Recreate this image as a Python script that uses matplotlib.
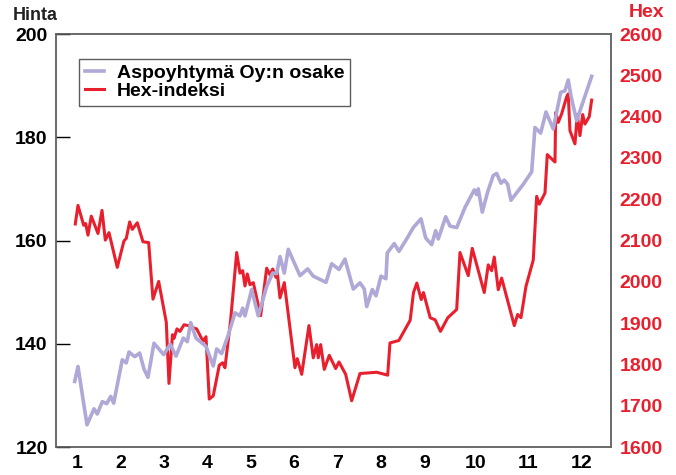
import matplotlib
matplotlib.use("Agg")
import matplotlib.pyplot as plt
import numpy as np

plt.rcParams["font.family"] = ["Liberation Sans", "DejaVu Sans"]
plt.rcParams["font.weight"] = "bold"

# x positions are in "month" units (1 = first label)
aspo_x = [0.947, 1.023, 1.230, 1.391, 1.467, 1.582, 1.683, 1.775, 1.844, 2.041,
          2.133, 2.195, 2.326, 2.441, 2.540, 2.632, 2.770, 2.993, 3.145, 3.276,
          3.444, 3.536, 3.614, 3.736, 3.966, 4.133, 4.211, 4.326, 4.478, 4.632,
          4.747, 4.809, 4.862, 5.016, 5.168, 5.361, 5.499, 5.591, 5.667, 5.766,
          5.857, 6.126, 6.303, 6.432, 6.724, 6.855, 7.023, 7.161, 7.352, 7.506,
          7.605, 7.660, 7.789, 7.874, 7.989, 8.103, 8.133, 8.294, 8.402, 8.579,
          8.731, 8.908, 9.016, 9.154, 9.246, 9.306, 9.476, 9.575, 9.729, 9.920,
          10.133, 10.189, 10.225, 10.317, 10.441, 10.570, 10.648, 10.747, 10.823, 10.901,
          10.977, 11.260, 11.453, 11.529, 11.660, 11.782, 11.949, 12.120, 12.218, 12.294,
          12.356, 12.487, 12.832]
aspo_price = [132.7, 135.6, 124.3, 127.4, 126.4, 128.8, 128.4, 129.8, 128.5, 136.9,
              136.3, 138.4, 137.5, 138.2, 135.1, 133.5, 140.1, 137.9, 139.9, 137.6,
              141.1, 140.4, 144.1, 141.1, 139.5, 135.7, 139.0, 138.1, 141.7, 146.0,
              145.4, 146.9, 145.4, 150.5, 145.4, 151.1, 153.7, 153.6, 156.9, 153.7,
              158.3, 153.2, 154.5, 153.1, 151.9, 155.5, 154.4, 156.4, 150.6, 151.8,
              150.6, 147.2, 150.5, 149.3, 153.1, 152.6, 157.6, 159.4, 157.9, 160.3,
              162.5, 164.2, 160.5, 159.2, 161.9, 160.3, 164.6, 162.8, 162.5, 166.4,
              169.8, 168.9, 170.0, 165.5, 169.4, 172.6, 173.0, 171.1, 171.7, 170.9,
              167.8, 170.9, 173.3, 181.9, 180.8, 184.9, 181.6, 188.7, 189.0, 191.1,
              188.0, 183.2, 191.8]

hex_x = [0.961, 1.023, 1.154, 1.200, 1.253, 1.329, 1.483, 1.575, 1.651, 1.736,
         1.926, 2.080, 2.133, 2.211, 2.271, 2.386, 2.517, 2.648, 2.747, 2.878,
         3.053, 3.115, 3.195, 3.230, 3.299, 3.368, 3.460, 3.559, 3.690, 3.752,
         3.844, 3.903, 3.966, 4.041, 4.133, 4.271, 4.349, 4.402, 4.533, 4.671,
         4.747, 4.809, 4.862, 4.915, 4.977, 5.053, 5.223, 5.361, 5.437, 5.499,
         5.575, 5.605, 5.667, 5.766, 6.011, 6.064, 6.166, 6.333, 6.432, 6.510,
         6.547, 6.602, 6.685, 6.800, 6.947, 7.023, 7.177, 7.315, 7.506, 7.890,
         8.143, 8.195, 8.400, 8.660, 8.736, 8.813, 8.914, 8.966, 9.120, 9.234,
         9.356, 9.524, 9.729, 9.805, 9.995, 10.087, 10.363, 10.455, 10.533, 10.593,
         10.685, 10.763, 11.053, 11.131, 11.207, 11.322, 11.490, 11.568, 11.628, 11.759,
         11.812, 11.989, 12.005, 12.064, 12.143, 12.257, 12.294, 12.333, 12.448, 12.501,
         12.563, 12.625, 12.678, 12.777, 12.832]
hex_index = [2140, 2185, 2137, 2141, 2113, 2159, 2117, 2173, 2101, 2119,
             2035, 2099, 2105, 2145, 2127, 2143, 2097, 2095, 1958, 2001,
             1902, 1754, 1872, 1863, 1886, 1880, 1896, 1894, 1888, 1886,
             1867, 1856, 1867, 1716, 1724, 1798, 1804, 1792, 1908, 2071,
             2021, 2027, 1990, 2019, 1993, 1998, 1918, 2033, 2017, 2031,
             2011, 2022, 1961, 1998, 1792, 1814, 1776, 1894, 1816, 1848,
             1816, 1848, 1788, 1822, 1790, 1806, 1776, 1712, 1778, 1781,
             1774, 1852, 1858, 1907, 1974, 1997, 1957, 1974, 1913, 1908,
             1880, 1913, 1933, 2071, 2015, 2081, 1974, 2041, 2027, 2060,
             1981, 2009, 1894, 1921, 1913, 1989, 2053, 2207, 2188, 2215,
             2308, 2290, 2410, 2386, 2407, 2448, 2455, 2366, 2334, 2405,
             2354, 2405, 2382, 2400, 2440]

month_labels = ["1", "2", "3", "4", "5", "6", "7", "8", "9", "10", "11", "12"]
month_pos = [1.01, 2.01, 3.0, 3.99, 4.99, 5.99, 6.99, 7.98, 9.0, 10.17, 11.37, 12.6]

purple = "#b0a8d6"
red = "#e8202e"
fs = 14

fig = plt.figure(figsize=(6.76, 4.75), dpi=100)
ax = fig.add_axes([0.0828, 0.0589, 0.8210, 0.8695])
ax2 = ax.twinx()

l1, = ax.plot(aspo_x, aspo_price, color=purple, lw=2.6, label="Aspoyhtymä Oy:n osake")
l2, = ax2.plot(hex_x, hex_index, color=red, lw=2.2, label="Hex-indeksi")
ax.set_zorder(ax2.get_zorder() + 1)
ax.patch.set_visible(False)

ax.set_xlim(0.517, 13.276)
ax.set_ylim(120, 200)
ax2.set_ylim(1600, 2600)

ax.set_yticks(np.arange(120, 201, 20))
ax.tick_params(axis="y", direction="in", length=10, width=1, pad=6,
               labelsize=fs, colors="black")
ax.set_xticks(month_pos)
ax.set_xticklabels(month_labels)
ax.tick_params(axis="x", length=0, pad=5.5, labelsize=fs)

ax2.set_yticks(np.arange(1600, 2601, 100))
ax2.set_yticks(np.arange(1600, 2601, 200), minor=True)
ax2.tick_params(axis="y", which="major", length=0, pad=6, labelsize=fs,
                labelcolor=red)
ax2.tick_params(axis="y", which="minor", direction="in", length=10, width=1,
                color="#555555")

for a in (ax, ax2):
    for s in a.spines.values():
        s.set_color("#666666")
        s.set_linewidth(1.1)

for t in ax.get_yticklabels() + ax.get_xticklabels() + ax2.get_yticklabels():
    t.set_fontweight("bold")

fig.text(0.019, 0.968, "Hinta", fontsize=13, fontweight="bold",
         color="#222222", va="center", ha="left")
fig.text(0.983, 0.974, "Hex", fontsize=14, fontweight="bold",
         color=red, va="center", ha="right")

leg = ax.legend(handles=[l1, l2], loc="upper left",
                bbox_to_anchor=(0.041, 0.94), frameon=True, fancybox=False,
                prop={"weight": "bold", "size": 14}, handlelength=1.0,
                borderpad=0.3, labelspacing=0.0, handletextpad=0.65,
                borderaxespad=0)
leg.get_frame().set_edgecolor("#333333")
leg.get_frame().set_linewidth(1.0)

fig.savefig("out.png", dpi=100)
